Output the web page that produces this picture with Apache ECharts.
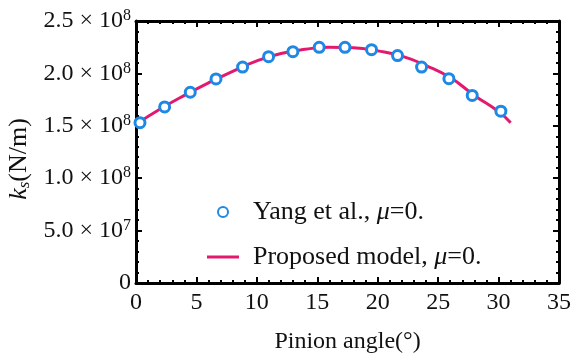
<!DOCTYPE html>
<html>
<head>
<meta charset="utf-8">
<script src="https://cdn.jsdelivr.net/npm/echarts@6/dist/echarts.min.js"></script>
<style>html,body{margin:0;padding:0;background:#fff;}#c{width:582px;height:355px;}</style>
</head>
<body>
<div id="c"></div>
<script>
// Yang et al. (mu = 0) measured points: [pinion angle (deg), k_s (N/m)]
var yangAngles = [0.33, 2.37, 4.49, 6.62, 8.82, 10.97, 12.98, 15.16, 17.29, 19.49, 21.64, 23.63, 25.89, 27.82, 30.19];
var yangValues = [1.53e8, 1.68e8, 1.82e8, 1.947e8, 2.06e8, 2.16e8, 2.207e8, 2.249e8, 2.249e8, 2.226e8, 2.17e8, 2.06e8, 1.95e8, 1.79e8, 1.64e8];
// Proposed model curve
var modelAngles = [0, 2, 4, 6, 8, 10, 12, 14, 16, 18, 20, 22, 24, 26, 28, 30, 31];
var modelValues = [1.515e8, 1.66e8, 1.79e8, 1.91e8, 2.02e8, 2.12e8, 2.19e8, 2.23e8, 2.25e8, 2.245e8, 2.215e8, 2.165e8, 2.075e8, 1.96e8, 1.79e8, 1.635e8, 1.53e8];
var xTicks = [0, 5, 10, 15, 20, 25, 30, 35];
var yTicks = [0, 5e7, 1e8, 1.5e8, 2e8, 2.5e8];
var seriesNames = ['Yang et al., \u03bc=0.', 'Proposed model, \u03bc=0.'];

var FONT = '"Liberation Serif", "Times New Roman", serif';

function zip(a, b) { return a.map(function (v, i) { return [v, b[i]]; }); }

function yFmt(v) {
  if (v === 0) return '{m|0}';
  var e = Math.floor(Math.log10(v) + 1e-9);
  var m = (v / Math.pow(10, e)).toFixed(1);
  return '{m|' + m + ' \u00d7 10}{s|' + e + '}';
}

var tickCommon = {
  axisLine: { show: true, onZero: false, lineStyle: { color: '#000', width: 3 } },
  axisTick: { show: true, inside: true, length: 6, lineStyle: { color: '#000', width: 2 } },
  minorTick: { show: true, splitNumber: 5, length: 3, lineStyle: { color: '#000', width: 2 } },
  splitLine: { show: false },
  minorSplitLine: { show: false }
};

var chart = echarts.init(document.getElementById('c'), null, { renderer: 'canvas' });
chart.setOption({
  animation: false,
  backgroundColor: '#fff',
  grid: { left: 136, right: 23, top: 21, bottom: 72, containLabel: false, outerBoundsMode: 'none' },
  legend: {
    data: [
      { name: seriesNames[0] },
      { name: seriesNames[1], icon: 'path://M0,0 L32,0 L32,3 L0,3 Z' }
    ],
    orient: 'vertical',
    left: 202,
    top: 193,
    itemWidth: 32,
    itemHeight: 10,
    itemGap: 17,
    formatter: function (n) {
      return n.replace('\u03bc', '{i|\u03bc}');
    },
    textStyle: {
      fontFamily: FONT, fontSize: 26, color: '#111', lineHeight: 28, padding: [0, 0, 0, 9],
      rich: { i: { fontFamily: FONT, fontSize: 26, fontStyle: 'italic', color: '#111', lineHeight: 28 } }
    }
  },
  xAxis: [
    Object.assign({
      type: 'value', min: 0, max: 35, interval: 5, position: 'bottom',
      name: 'Pinion angle(\u00b0)', nameLocation: 'middle', nameGap: 47,
      nameTextStyle: { fontFamily: FONT, fontSize: 24, color: '#111' },
      axisLabel: { fontFamily: FONT, fontSize: 24, color: '#111', margin: 8 }
    }, tickCommon),
    Object.assign({
      type: 'value', min: 0, max: 35, interval: 5, position: 'top',
      axisLabel: { show: false }
    }, tickCommon)
  ],
  yAxis: [
    Object.assign({
      type: 'value', min: 0, max: 2.5e8, interval: 5e7, position: 'left',
      name: '{i|k}{sub|s}{n|(N/m)}', nameLocation: 'middle', nameGap: 98, nameRotate: 90,
      nameTextStyle: {
        padding: [0, 14, 0, 0],
        rich: {
          i: { fontFamily: FONT, fontSize: 26, fontStyle: 'italic', color: '#111' },
          sub: { fontFamily: FONT, fontSize: 17, fontStyle: 'italic', color: '#111', verticalAlign: 'bottom', padding: [10, 0, 0, 0] },
          n: { fontFamily: FONT, fontSize: 26, color: '#111' }
        }
      },
      axisLabel: {
        margin: 5,
        formatter: yFmt,
        rich: {
          m: { fontFamily: FONT, fontSize: 24, color: '#111', lineHeight: 26 },
          s: { fontFamily: FONT, fontSize: 16, color: '#111', verticalAlign: 'top', padding: [0, 0, 8, 0] }
        }
      }
    }, tickCommon),
    Object.assign({
      type: 'value', min: 0, max: 2.5e8, interval: 5e7, position: 'right',
      axisLabel: { show: false }
    }, tickCommon)
  ],
  series: [
    {
      name: seriesNames[1], type: 'line', smooth: true, symbol: 'none', showSymbol: false,
      data: zip(modelAngles, modelValues),
      lineStyle: { color: '#e3196f', width: 3 },
      itemStyle: { color: '#e3196f' },
      z: 2
    },
    {
      name: seriesNames[0], type: 'scatter', symbol: 'circle', symbolSize: 10,
      data: zip(yangAngles, yangValues),
      itemStyle: { color: '#ffffff', borderColor: '#1e88e5', borderWidth: 3, opacity: 1 },
      z: 3
    }
  ]
});
</script>
</body>
</html>
